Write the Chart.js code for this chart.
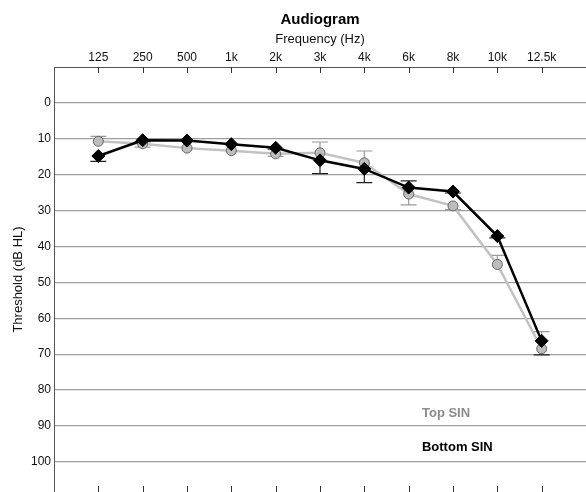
<!DOCTYPE html>
<html>
<head>
<meta charset="utf-8">
<script src="https://cdn.jsdelivr.net/npm/chart.js@4"></script>
<style>
  html, body { margin: 0; padding: 0; background: #fff; overflow: hidden; }
  #wrap { width: 586px; height: 492px; }
</style>
</head>
<body>
<div id="wrap"><canvas id="myChart"></canvas></div>
<script>
// Frequenzen (Kategorien) und Messwerte
const freqLabels = ['125', '250', '500', '1k', '2k', '3k', '4k', '6k', '8k', '10k', '12.5k'];
const yTicks = [0, 10, 20, 30, 40, 50, 60, 70, 80, 90, 100];

const topSin = [10.7, 11.4, 12.6, 13.3, 14.2, 13.9, 16.7, 25.4, 28.7, 45.0, 68.5];
const bottomSin = [14.8, 10.4, 10.5, 11.5, 12.5, 16.0, 18.4, 23.6, 24.7, 37.1, 66.3];

// einseitige Fehlerbalken (negativ = nach oben)
const topErr = [-1.4, 0.9, 0, 0, 0.7, -3.0, -3.3, 3.0, 1.0, -2.5, -4.8];
const bottomErr = [1.5, 0.4, 0, 0, 0.4, 3.7, 3.8, -1.9, 0.4, 0.5, 3.9];

const FONT = '"Liberation Sans", Arial, sans-serif';
Chart.defaults.font.family = FONT;
Chart.defaults.color = '#111';

// Fehlerbalken hinter die Punkte zeichnen
const errorBars = {
  id: 'errorBars',
  beforeDatasetsDraw(chart) {
    const ctx = chart.ctx;
    const xs = chart.scales.x, ys = chart.scales.y;
    chart.data.datasets.forEach(ds => {
      ctx.save();
      ctx.strokeStyle = ds.errColor;
      ctx.lineWidth = 1.2;
      ds.data.forEach((p, i) => {
        const e = ds.err[i];
        if (!e) return;
        const x = xs.getPixelForValue(p.x);
        const y0 = ys.getPixelForValue(p.y);
        const y1 = ys.getPixelForValue(p.y + e);
        ctx.beginPath();
        ctx.moveTo(x, y0); ctx.lineTo(x, y1);
        ctx.moveTo(x - 8, y1); ctx.lineTo(x + 8, y1);
        ctx.stroke();
      });
      ctx.restore();
    });
  }
};

// kleine Striche innen an oberer und unterer Kante
const innerTicks = {
  id: 'innerTicks',
  afterDraw(chart) {
    const ctx = chart.ctx, a = chart.chartArea, xs = chart.scales.x;
    ctx.save();
    ctx.strokeStyle = '#333';
    ctx.lineWidth = 1;
    freqLabels.forEach((l, i) => {
      const x = Math.round(xs.getPixelForValue(i)) + 0.5;
      ctx.beginPath();
      ctx.moveTo(x, a.top); ctx.lineTo(x, a.top + 6);
      ctx.moveTo(x, a.bottom); ctx.lineTo(x, a.bottom - 6);
      ctx.stroke();
    });
    ctx.restore();
  }
};

// Legende als Text im Diagramm
const legendText = {
  id: 'legendText',
  afterDraw(chart) {
    const ctx = chart.ctx, xs = chart.scales.x, ys = chart.scales.y;
    ctx.save();
    ctx.font = 'bold 13px ' + FONT;
    ctx.textBaseline = 'middle';
    ctx.fillStyle = '#8c8c8c';
    ctx.fillText('Top SIN', xs.getPixelForValue(7.3), ys.getPixelForValue(86.4));
    ctx.fillStyle = '#000';
    ctx.fillText('Bottom SIN', xs.getPixelForValue(7.3), ys.getPixelForValue(96.1));
    ctx.restore();
  }
};

const ctx = document.getElementById('myChart').getContext('2d');
new Chart(ctx, {
  type: 'line',
  data: {
    datasets: [{
      label: 'Top SIN',
      data: topSin.map((v, i) => ({ x: i, y: v })),
      err: topErr,
      errColor: '#9a9a9a',
      borderColor: '#c2c2c2',
      borderWidth: 2.5,
      pointStyle: 'circle',
      pointRadius: 5,
      pointBackgroundColor: '#bdbdbd',
      pointBorderColor: '#666',
      pointBorderWidth: 1,
      order: 1
    }, {
      label: 'Bottom SIN',
      data: bottomSin.map((v, i) => ({ x: i, y: v })),
      err: bottomErr,
      errColor: '#222',
      borderColor: '#000',
      borderWidth: 2.5,
      pointStyle: 'rectRot',
      pointRadius: 6.5,
      pointBackgroundColor: '#000',
      pointBorderColor: '#000',
      pointBorderWidth: 1,
      order: 0
    }]
  },
  options: {
    responsive: true,
    maintainAspectRatio: false,
    animation: false,
    layout: { padding: 0, autoPadding: false },
    plugins: {
      legend: { display: false },
      tooltip: { enabled: false },
      title: {
        display: true,
        text: 'Audiogram',
        fullSize: false,
        color: '#000',
        font: { size: 15, weight: 'bold' },
        padding: { top: 11, bottom: 0 }
      }
    },
    scales: {
      x: {
        type: 'linear',
        position: 'top',
        min: -1,
        max: 11,
        afterBuildTicks: s => { s.ticks = freqLabels.map((l, i) => ({ value: i })); },
        afterFit: s => { s.height = 38; s.paddingLeft = 0; s.paddingRight = 0; },
        ticks: {
          callback: v => freqLabels[v] || '',
          font: { size: 12 },
          padding: 2,
          maxRotation: 0,
          autoSkip: false
        },
        grid: { display: true, drawOnChartArea: false, drawTicks: false },
        border: { display: true, color: '#555', width: 1 },
        title: {
          display: true,
          text: 'Frequency (Hz)',
          font: { size: 13 },
          padding: { top: 3, bottom: 0 }
        }
      },
      y: {
        reverse: true,
        min: -10,
        max: 108.4,
        afterBuildTicks: s => { s.ticks = yTicks.map(v => ({ value: v })); },
        afterFit: s => { s.width = 54; s.paddingTop = 0; s.paddingBottom = 0; },
        ticks: { font: { size: 12 }, padding: 3 },
        grid: { color: '#9e9e9e', lineWidth: 1.2, drawTicks: false },
        border: { display: true, color: '#555', width: 1 },
        title: {
          display: true,
          text: 'Threshold (dB HL)',
          font: { size: 13 },
          padding: { top: 11, bottom: 0 }
        }
      }
    }
  },
  plugins: [errorBars, innerTicks, legendText]
});
</script>
</body>
</html>
